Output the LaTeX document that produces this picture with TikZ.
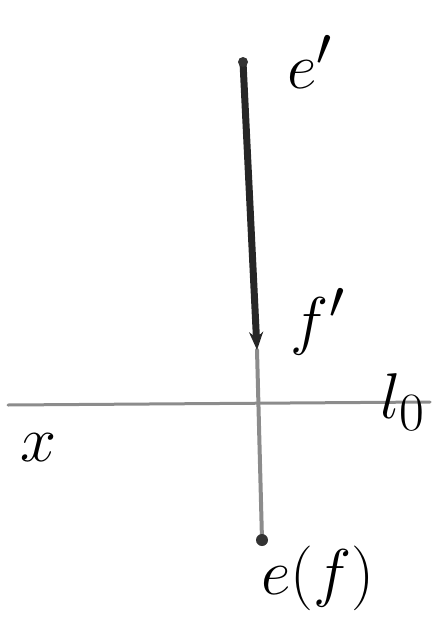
\documentclass[tikz,border=0pt]{standalone}
\usepackage{amsmath,amssymb}
\usepackage{xcolor}
\usetikzlibrary{positioning, calc, arrows.meta}

\begin{document}
\begin{tikzpicture}[x=1pt, y=-1pt, >=Stealth,
    hand/.style={font=\Huge, scale=2.6, inner sep=0pt},
    pencil/.style={line width=4pt, black!45, line cap=round},
    pen/.style={line width=7pt, black!85, line cap=round}]

    % --- Frame ---
    \useasboundingbox (0,0) rectangle (434,629);

    % --- Points ---
    \coordinate (eprime) at (243,62);
    \coordinate (fprime) at (257,350);
    \coordinate (et) at (262,540);
    \coordinate (xl) at (8,405);
    \coordinate (xr) at (430,402);

    % --- Axis ---
    \draw[pencil, line width=3pt] (xl) -- (xr);
    \node[hand] (xlab) at (38,448) {$x$};
    \node[hand, anchor=west] (llab) at (380,402) {$l_0$};

    % --- Vectors ---
    % lighter line down to e(f)
    \draw[pencil] (fprime) -- (et);
    % thick arrow from e' down to f'
    \draw[pen, -{Stealth[length=18pt, width=14pt]}] (eprime) -- (fprime);

    % end points
    \fill[black!80] (eprime) circle (5pt);
    \fill[black!80] (et) circle (6pt);

    % --- Labels ---
    \node[hand] (elab) at (310,62) {$e'$};
    \node[hand] (flab) at (318,322) {$f'$};
    \node[hand] (eflab) at (318,578) {$e(f)$};

\end{tikzpicture}
\end{document}
